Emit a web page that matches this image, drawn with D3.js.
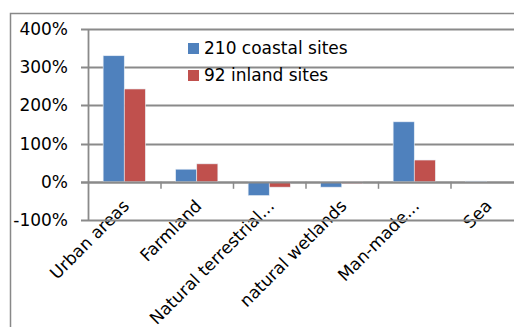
<!DOCTYPE html>
<html>
<head>
<meta charset="utf-8">
<script src="https://cdn.jsdelivr.net/npm/d3@7"></script>
<style>
  html, body { margin: 0; padding: 0; background: #fff; }
  svg { display: block; }
  text { font-family: "DejaVu Sans", "Open Sans", sans-serif; fill: #000; }
</style>
</head>
<body>
<svg id="chart" width="514" height="327"></svg>
<script>
// Land-cover categories and change per group of sites (percent)
const categories = ["Urban areas", "Farmland", "Natural terrestrial...", "natural wetlands", "Man-made...", "Sea"];
const seriesNames = ["210 coastal sites", "92 inland sites"];
const coastal = [330, 33, -36, -14, 157, 2];
const inland = [243, 47, -14, -5, 57, 0];
const yTicks = [-100, 0, 100, 200, 300, 400];
const colors = ["#4F81BD", "#C0504D"];

const svg = d3.select("#chart");
const W = 514, H = 327;
const FS = 17;

// Outer chart border (extends past the visible canvas on the right and bottom)
svg.append("rect")
  .attr("x", 10.5).attr("y", 13.5)
  .attr("width", 520).attr("height", 330)
  .attr("fill", "none").attr("stroke", "#888").attr("stroke-width", 1.5);

const plot = { left: 88, top: 29, bottom: 220 };
const bandW = 72.5;

const x = d3.scaleBand()
  .domain(categories)
  .range([plot.left, plot.left + bandW * categories.length])
  .paddingInner(0).paddingOuter(0);

const xs = d3.scaleBand()
  .domain(seriesNames)
  .range([0, x.bandwidth()])
  .paddingInner(0).paddingOuter(0.717);

const y = d3.scaleLinear().domain([-100, 400]).range([plot.bottom, plot.top]);

// Rotated category labels (drawn first; gridlines pass over them)
svg.append("g")
  .selectAll("text")
  .data(categories)
  .join("text")
  .attr("text-anchor", "end")
  .attr("font-size", FS)
  .attr("transform", d => `translate(${x(d) + x.bandwidth() / 2 + 6},${207}) rotate(-45)`)
  .text(d => d);

// Horizontal gridlines
svg.append("g")
  .selectAll("line")
  .data(yTicks)
  .join("line")
  .attr("x1", plot.left - 7).attr("x2", W)
  .attr("y1", d => Math.round(y(d)) + 0.5).attr("y2", d => Math.round(y(d)) + 0.5)
  .attr("stroke", "#8a8a8a").attr("stroke-width", 1.8);

// Y axis line
svg.append("line")
  .attr("x1", plot.left + 0.5).attr("x2", plot.left + 0.5)
  .attr("y1", plot.top).attr("y2", plot.bottom)
  .attr("stroke", "#8a8a8a").attr("stroke-width", 1.8);

// Y tick labels
svg.append("g")
  .selectAll("text")
  .data(yTicks)
  .join("text")
  .attr("x", 68).attr("y", d => y(d))
  .attr("dy", "0.35em")
  .attr("text-anchor", "end")
  .attr("font-size", FS)
  .text(d => d + "%");

// Bars
const rows = categories.map((c, i) => ({ cat: c, vals: [coastal[i], inland[i]] }));
const groups = svg.append("g")
  .selectAll("g")
  .data(rows)
  .join("g")
  .attr("transform", d => `translate(${x(d.cat)},0)`);

groups.selectAll("rect")
  .data(d => d.vals.map((v, j) => ({ v, name: seriesNames[j], j })))
  .join("rect")
  .attr("x", d => xs(d.name))
  .attr("width", xs.bandwidth())
  .attr("y", d => y(Math.max(0, d.v)))
  .attr("height", d => Math.abs(y(d.v) - y(0)))
  .attr("fill", d => colors[d.j])
  .attr("stroke", "#e8eef6").attr("stroke-width", 0.6);

// X axis (zero line) and category ticks
svg.append("line")
  .attr("x1", plot.left - 7).attr("x2", W)
  .attr("y1", Math.round(y(0)) + 0.5).attr("y2", Math.round(y(0)) + 0.5)
  .attr("stroke", "#8a8a8a").attr("stroke-width", 1.8);

svg.append("g")
  .selectAll("line")
  .data(categories.slice(1))
  .join("line")
  .attr("x1", d => x(d) + 0.5).attr("x2", d => x(d) + 0.5)
  .attr("y1", y(0)).attr("y2", y(0) + 7)
  .attr("stroke", "#8a8a8a").attr("stroke-width", 1.5);

// Legend
const legend = svg.append("g");
seriesNames.forEach((name, i) => {
  const ly = 43 + i * 27;
  legend.append("rect")
    .attr("x", 188).attr("y", ly)
    .attr("width", 11).attr("height", 11)
    .attr("fill", colors[i]);
  legend.append("text")
    .attr("x", 204).attr("y", ly + 5.5)
    .attr("dy", "0.35em")
    .attr("font-size", FS)
    .text(name);
});
</script>
</body>
</html>
